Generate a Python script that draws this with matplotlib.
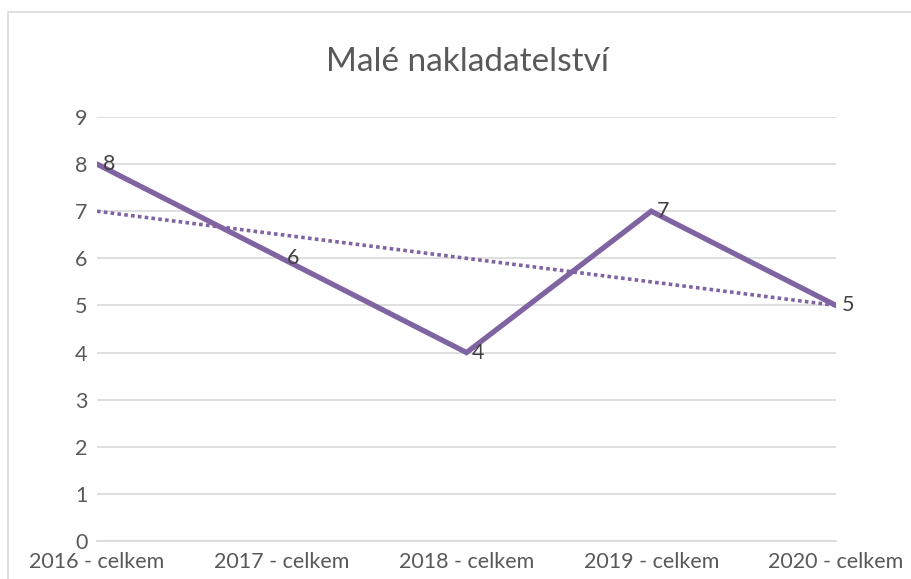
import matplotlib.pyplot as plt
from matplotlib.patches import Rectangle

# data
categories = ['2016 - celkem', '2017 - celkem', '2018 - celkem', '2019 - celkem', '2020 - celkem']
values = [8, 6, 4, 7, 5]
trend_ends = [7, 5]   # linear trend, first and last category
yticks = list(range(0, 10))

purple = '#8064A2'
grid = '#D9D9D9'
txt = '#595959'

plt.rcParams['font.family'] = ['Lato', 'DejaVu Sans']

fig = plt.figure(figsize=(9.12, 5.79), dpi=100)
# chart border
fig.patches.append(Rectangle((8 / 912, -0.01), 1.0, 1 - 12 / 579 + 0.01, transform=fig.transFigure,
                             fill=False, edgecolor=grid, linewidth=1.2))

ax = fig.add_axes([97 / 912, 38 / 579, 739 / 912, 424 / 579])
x = list(range(len(categories)))

ax.plot(x, values, color=purple, linewidth=3.8, solid_joinstyle='miter', zorder=3)
ax.plot([x[0], x[-1]], trend_ends, color=purple, linewidth=2.6, linestyle=(0, (1, 0.9)),
        dash_capstyle='butt', zorder=2)

for xi, v in zip(x, values):
    ax.annotate(str(v), (xi, v), xytext=(4, 0), textcoords='offset points',
                ha='left', va='center', fontsize=15.5, color='#404040', zorder=4)

ax.set_xlim(0, 4)
ax.set_ylim(0, 9)
ax.set_yticks(yticks)
ax.set_xticks(x)
ax.set_xticklabels(categories)
ax.yaxis.grid(True, color=grid, linewidth=1.2)
ax.set_axisbelow(True)
for s in ['top', 'right', 'left']:
    ax.spines[s].set_visible(False)
ax.spines['bottom'].set_color(grid)
ax.spines['bottom'].set_linewidth(1.2)
ax.tick_params(axis='both', length=0, labelsize=15.5, colors=txt)
ax.tick_params(axis='y', pad=7)
ax.tick_params(axis='x', pad=8)
for lbl in ax.get_xticklabels() + ax.get_yticklabels():
    lbl.set_color(txt)

fig.text(467 / 912, 1 - 62 / 579, 'Malé nakladatelství', ha='center', va='center',
         fontsize=24, color=txt)

fig.savefig('out.png', dpi=100)
